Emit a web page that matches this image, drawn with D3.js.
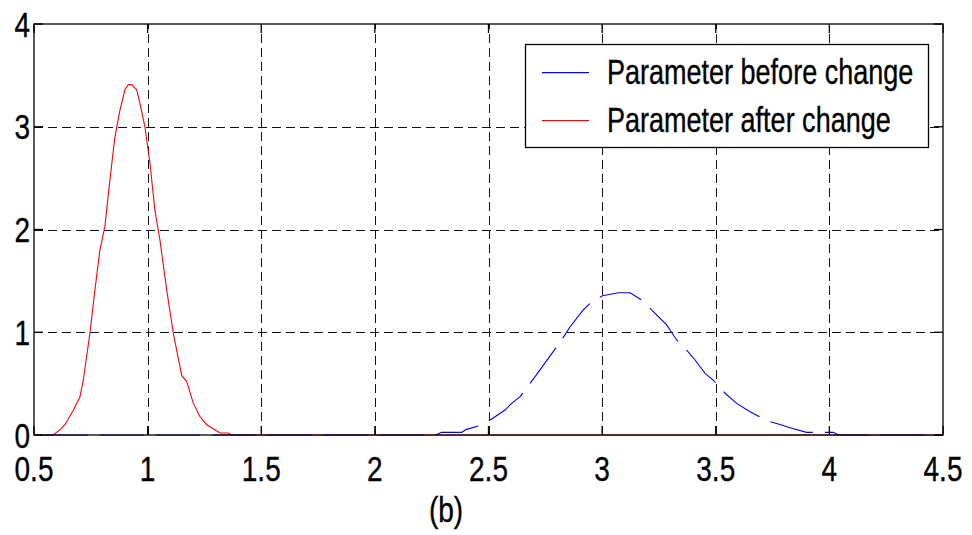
<!DOCTYPE html>
<html>
<head>
<meta charset="utf-8">
<script src="https://cdn.jsdelivr.net/npm/d3@7"></script>
<style>
  html, body { margin: 0; padding: 0; background: #fff; }
  svg { display: block; }
  text { font-family: "Liberation Sans", Arial, sans-serif; fill: #000; stroke: #000; stroke-width: 0.35px; }
</style>
</head>
<body>
<svg id="chart" width="972" height="535"></svg>
<script>
// Parameter density before change (x, density)
const beforeX = [0.5, 2.265, 2.294, 2.382, 2.404, 2.455, 2.514, 2.573, 2.602, 2.639, 2.705, 2.822, 2.859, 2.917, 2.954, 3.002, 3.071, 3.123, 3.174, 3.211, 3.233, 3.284, 3.328, 3.372, 3.409, 3.453, 3.489, 3.541, 3.592, 3.651, 3.724, 3.775, 3.834, 3.900, 4.017, 4.040, 4.5];
const beforeY = [0, 0, 0.026, 0.026, 0.055, 0.087, 0.156, 0.243, 0.308, 0.373, 0.568, 0.925, 1.054, 1.217, 1.297, 1.356, 1.385, 1.385, 1.314, 1.233, 1.184, 1.071, 0.925, 0.827, 0.730, 0.600, 0.535, 0.406, 0.308, 0.227, 0.139, 0.107, 0.065, 0.026, 0.026, 0, 0];

// Parameter density after change (x, density)
const afterX = [0.5, 0.584, 0.614, 0.636, 0.673, 0.702, 0.717, 0.746, 0.768, 0.790, 0.812, 0.834, 0.856, 0.878, 0.900, 0.915, 0.930, 0.952, 0.966, 0.988, 1.010, 1.032, 1.054, 1.084, 1.113, 1.150, 1.172, 1.201, 1.230, 1.260, 1.318, 1.355, 1.370, 4.5];
const afterY = [0, 0, 0.05, 0.10, 0.24, 0.37, 0.535, 0.99, 1.41, 1.80, 2.03, 2.48, 2.90, 3.16, 3.36, 3.41, 3.41, 3.36, 3.23, 3.00, 2.65, 2.19, 1.90, 1.41, 0.99, 0.58, 0.52, 0.31, 0.18, 0.10, 0.02, 0.02, 0, 0];

const xTicks = [0.5, 1, 1.5, 2, 2.5, 3, 3.5, 4, 4.5];
const xTickLabels = ["0.5", "1", "1.5", "2", "2.5", "3", "3.5", "4", "4.5"];
const yTicks = [0, 1, 2, 3, 4];
const yTickLabels = ["0", "1", "2", "3", "4"];

const seriesNames = ["Parameter before change", "Parameter after change"];
const seriesColors = ["#0000ff", "#ff0000"];
const caption = "(b)";

const svg = d3.select("#chart");
const plotL = 34, plotR = 943, plotT = 24, plotB = 435;

const x = d3.scaleLinear().domain([0.5, 4.5]).range([plotL, plotR]);
const y = d3.scaleLinear().domain([0, 4]).range([plotB, plotT]);

// grid lines
const grid = svg.append("g").attr("stroke", "#111").attr("stroke-width", 1)
  .attr("stroke-dasharray", "9,5").attr("fill", "none");
grid.selectAll("line.gx").data(xTicks.slice(1, -1)).join("line")
  .attr("x1", d => Math.round(x(d)) + 0.5).attr("x2", d => Math.round(x(d)) + 0.5)
  .attr("y1", plotB).attr("y2", plotT);
grid.selectAll("line.gy").data(yTicks.slice(1, -1)).join("line")
  .attr("y1", d => Math.round(y(d)) + 0.5).attr("y2", d => Math.round(y(d)) + 0.5)
  .attr("x1", plotL).attr("x2", plotR);

// data lines
const line = d3.line().x(d => x(d[0])).y(d => y(d[1]));
const beforePts = d3.zip(beforeX, beforeY);
const afterPts = d3.zip(afterX, afterY);

svg.append("path").datum(afterPts)
  .attr("d", line).attr("fill", "none")
  .attr("stroke", seriesColors[1]).attr("stroke-width", 1.1);

svg.append("path").datum(beforePts)
  .attr("d", line).attr("fill", "none")
  .attr("stroke", seriesColors[0]).attr("stroke-width", 1.1)
  .attr("stroke-dasharray", "44,12").attr("stroke-dashoffset", 46);

// axes box with inward ticks on every side
const axesG = svg.append("g").attr("stroke", "#000").attr("stroke-width", 1.3).attr("fill", "none");
axesG.append("rect").attr("x", plotL).attr("y", plotT)
  .attr("width", plotR - plotL).attr("height", plotB - plotT);
const tickLen = 9;
axesG.selectAll("line.tb").data(xTicks).join("line")
  .attr("x1", d => x(d)).attr("x2", d => x(d)).attr("y1", plotB).attr("y2", plotB - tickLen);
axesG.selectAll("line.tt").data(xTicks).join("line")
  .attr("x1", d => x(d)).attr("x2", d => x(d)).attr("y1", plotT).attr("y2", plotT + tickLen);
axesG.selectAll("line.tl").data(yTicks).join("line")
  .attr("y1", d => y(d)).attr("y2", d => y(d)).attr("x1", plotL).attr("x2", plotL + tickLen);
axesG.selectAll("line.tr").data(yTicks).join("line")
  .attr("y1", d => y(d)).attr("y2", d => y(d)).attr("x1", plotR).attr("x2", plotR - tickLen);

// tick labels (condensed glyphs)
const fs = 35, sx = 0.8;
svg.append("g").selectAll("text").data(xTicks).join("text")
  .attr("transform", d => `translate(${x(d)},481) scale(${sx},1)`)
  .attr("text-anchor", "middle").attr("font-size", fs)
  .text((d, i) => xTickLabels[i]);
svg.append("g").selectAll("text").data(yTicks).join("text")
  .attr("transform", d => `translate(30,${y(d) + 12.5}) scale(${sx},1)`)
  .attr("text-anchor", "end").attr("font-size", fs)
  .text((d, i) => yTickLabels[i]);

// caption
svg.append("text").attr("transform", "translate(446,522) scale(0.8,1)")
  .attr("text-anchor", "middle").attr("font-size", fs).text(caption);

// legend
const lg = svg.append("g");
lg.append("rect").attr("x", 525.5).attr("y", 44.5).attr("width", 403).attr("height", 103)
  .attr("fill", "#fff").attr("stroke", "#000").attr("stroke-width", 1.3);
const legendRows = [72.7, 120.7];
seriesNames.forEach((name, i) => {
  lg.append("line").attr("x1", 542).attr("x2", 589)
    .attr("y1", legendRows[i]).attr("y2", legendRows[i])
    .attr("stroke", seriesColors[i]).attr("stroke-width", 1.2);
  lg.append("text")
    .attr("transform", `translate(607,${legendRows[i] + 11}) scale(0.772,1)`)
    .attr("font-size", 35)
    .text(name);
});
</script>
</body>
</html>
